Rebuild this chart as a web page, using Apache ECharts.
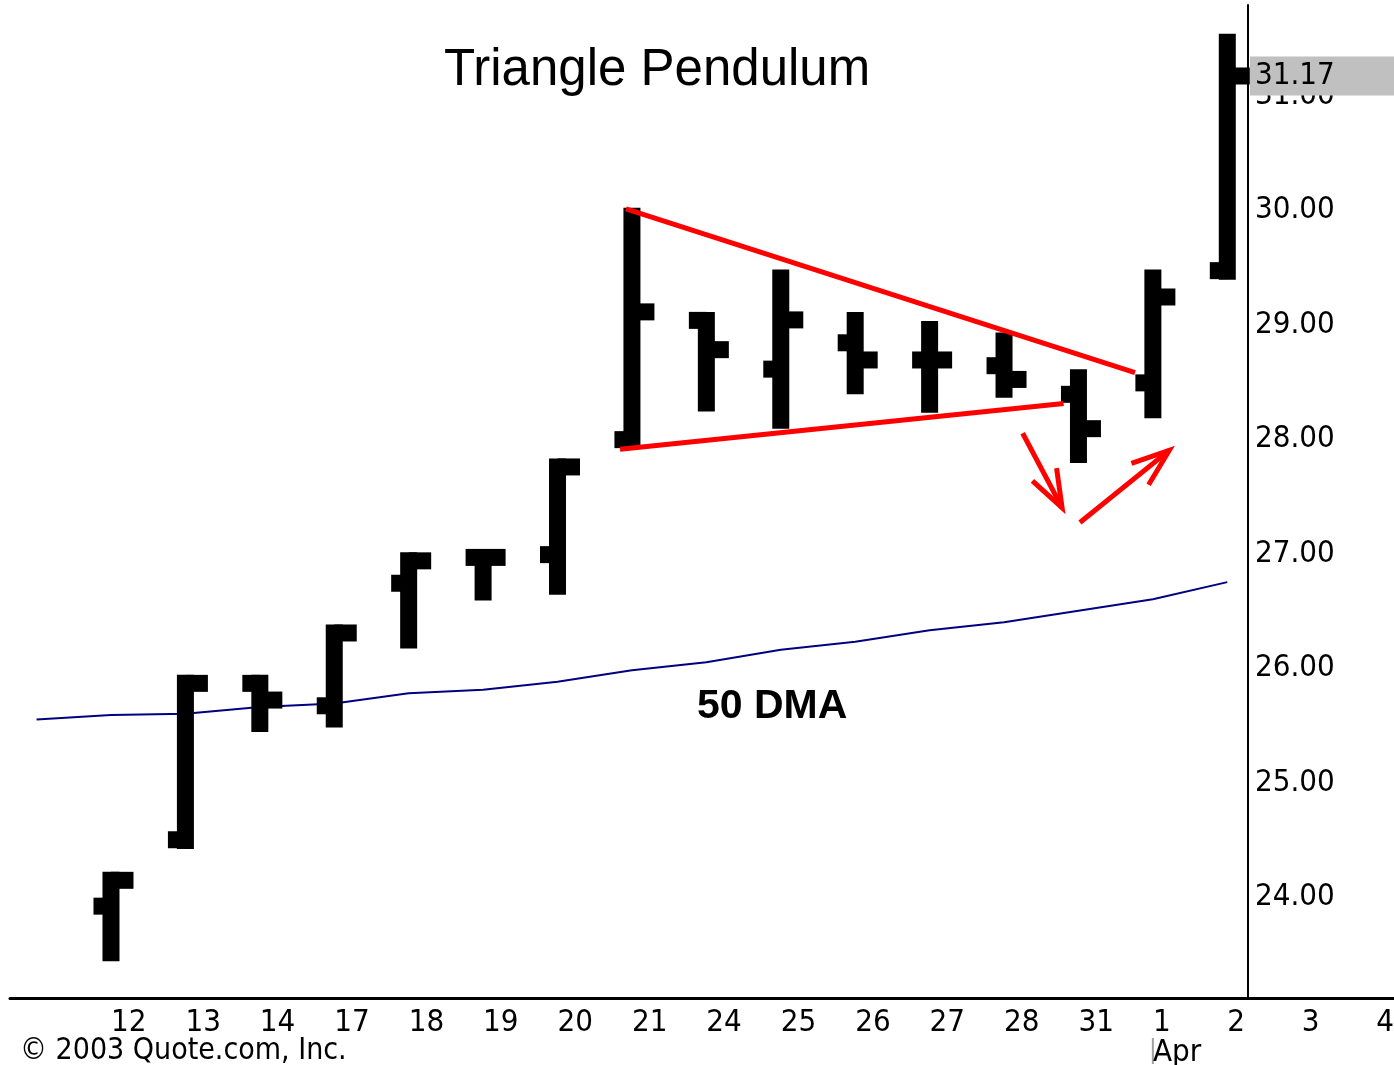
<!DOCTYPE html>
<html>
<head>
<meta charset="utf-8">
<title>Triangle Pendulum</title>
<script src="https://cdn.jsdelivr.net/npm/echarts@6/dist/echarts.min.js"></script>
<style>
  html, body { margin: 0; padding: 0; background: #fff; overflow: hidden; }
  #chart { width: 1394px; height: 1065px; }
</style>
</head>
<body>
<div id="chart"></div>
<script>
// Trading days (March 12 – April 4, 2003)
const days = ['12', '13', '14', '17', '18', '19', '20', '21', '24', '25', '26', '27', '28', '31', '1', '2', '3', '4'];

// Daily OHLC bars
const opens  = [23.92, 24.50, 25.87, 25.67, 26.74, 26.97, 26.99, 27.99, 29.04, 28.61, 28.84, 28.69, 28.64, 28.39, 28.49, 29.47];
const highs  = [24.22, 25.94, 25.94, 26.38, 27.01, 27.04, 27.83, 30.02, 29.11, 29.48, 29.11, 29.03, 28.93, 28.61, 29.48, 31.54];
const lows   = [23.44, 24.42, 25.44, 25.48, 26.17, 26.59, 26.64, 27.92, 28.24, 28.09, 28.39, 28.23, 28.36, 27.79, 28.18, 29.39];
const closes = [24.15, 25.87, 25.72, 26.31, 26.94, 26.97, 27.76, 29.11, 28.78, 29.04, 28.69, 28.69, 28.52, 28.09, 29.24, 31.17];

// 50-day moving average: value for the session before the 12th, then one per bar
const maPrior = 25.55;
const maValues = [25.59, 25.60, 25.66, 25.69, 25.78, 25.81, 25.88, 25.98, 26.05, 26.16, 26.23, 26.33, 26.40, 26.50, 26.60, 26.75];

// Price ticks on the right-hand scale
const priceTicks = [24, 25, 26, 27, 28, 29, 30, 31];

// Triangle boundaries (x in session index, y in price)
const upperLine = [[6.92, 30.01], [13.76, 28.58]];
const lowerLine = [[6.84, 27.91], [12.80, 28.31]];

// Swing arrows: [fromIndex, fromPrice, toIndex, toPrice]
const arrows = [
  [12.25, 28.05, 12.78, 27.40],
  [13.02, 27.27, 14.22, 27.90]
];

const NARROW = "'Liberation Sans Narrow', 'Arial Narrow', 'DejaVu Sans Condensed', sans-serif";
const SANS = "'Liberation Sans', Arial, sans-serif";
const LABEL_SIZE = 31;

const ohlcData = opens.map((o, i) => [i, o, highs[i], lows[i], closes[i]]);
const maData = [[-1, maPrior]].concat(maValues.map((v, i) => [i, v]));
const lastClose = closes[closes.length - 1];

function renderBar(params, api) {
  const i = api.value(0);
  const o = api.coord([i, api.value(1)]);
  const h = api.coord([i, api.value(2)]);
  const l = api.coord([i, api.value(3)]);
  const c = api.coord([i, api.value(4)]);
  const cx = o[0];
  const stickW = 17, tickH = 17, leftExt = 9, rightExt = 14;
  const top = h[1], bot = l[1];
  const tickY = y => Math.min(Math.max(y - tickH / 2, top), bot - tickH);
  const style = { fill: '#000' };
  return {
    type: 'group',
    children: [
      { type: 'rect', shape: { x: cx - stickW / 2, y: top, width: stickW, height: bot - top }, style },
      { type: 'rect', shape: { x: cx - stickW / 2 - leftExt, y: tickY(o[1]), width: leftExt + stickW / 2, height: tickH }, style },
      { type: 'rect', shape: { x: cx, y: tickY(c[1]), width: stickW / 2 + rightExt, height: tickH }, style }
    ]
  };
}

function renderArrow(params, api) {
  const p0 = api.coord([api.value(0), api.value(1)]);
  const p1 = api.coord([api.value(2), api.value(3)]);
  const ang = Math.atan2(p0[1] - p1[1], p0[0] - p1[0]);
  const len = 40, spread = 20 * Math.PI / 180;
  const b1 = [p1[0] + len * Math.cos(ang + spread), p1[1] + len * Math.sin(ang + spread)];
  const b2 = [p1[0] + len * Math.cos(ang - spread), p1[1] + len * Math.sin(ang - spread)];
  const style = { stroke: '#ff0000', lineWidth: 5, fill: null, lineCap: 'butt', lineJoin: 'miter' };
  return {
    type: 'group',
    children: [
      { type: 'polyline', shape: { points: [p0, p1] }, style },
      { type: 'polyline', shape: { points: [b1, p1, b2] }, style }
    ]
  };
}

const chart = echarts.init(document.getElementById('chart'), null, { renderer: 'canvas' });

const option = {
  animation: false,
  backgroundColor: '#fff',
  title: {
    text: 'Triangle Pendulum',
    left: 444,
    top: 45,
    padding: 0,
    textStyle: { fontFamily: SANS, fontSize: 51, fontWeight: 'normal', color: '#000' }
  },
  grid: { left: 10, right: 0, top: 5, bottom: 67, containLabel: false, outerBoundsMode: 'none' },
  xAxis: {
    type: 'value',
    min: -1.357,
    max: 17.24,
    splitLine: { show: false },
    axisTick: { show: false },
    axisLine: { onZero: false, lineStyle: { color: '#000', width: 3 } },
    axisLabel: {
      customValues: days.map((d, i) => i),
      formatter: v => (days[v] === '1' ? '1\nApr' : days[v]),
      align: 'left',
      margin: 10,
      fontFamily: NARROW,
      fontSize: LABEL_SIZE,
      lineHeight: 30,
      color: '#000'
    }
  },
  yAxis: [
    {
      type: 'value',
      position: 'right',
      offset: -146,
      min: 23.118,
      max: 31.79,
      splitLine: { show: false },
      axisTick: { show: false },
      axisLine: { show: true, onZero: false, lineStyle: { color: '#000', width: 2 } },
      axisLabel: {
        customValues: priceTicks,
        formatter: v => v.toFixed(2),
        margin: 7,
        padding: [4, 0, 0, 0],
        fontFamily: NARROW,
        fontSize: LABEL_SIZE,
        color: '#000'
      }
    },
    {
      type: 'value',
      position: 'right',
      offset: -146,
      min: 23.118,
      max: 31.79,
      z: 5,
      splitLine: { show: false },
      axisTick: { show: false },
      axisLine: { show: false, onZero: false },
      axisLabel: {
        customValues: [lastClose],
        formatter: v => v.toFixed(2),
        margin: 2,
        fontFamily: NARROW,
        fontSize: LABEL_SIZE,
        lineHeight: 28,
        color: '#000',
        backgroundColor: '#c0c0c0',
        padding: [7, 0, 4, 5],
        width: 145
      }
    }
  ],
  series: [
    {
      name: '50 DMA',
      type: 'line',
      data: maData,
      showSymbol: false,
      symbol: 'none',
      lineStyle: { color: '#000080', width: 2 },
      z: 2
    },
    {
      name: 'Price',
      type: 'custom',
      renderItem: renderBar,
      data: ohlcData,
      encode: { x: 0, y: [1, 2, 3, 4] },
      z: 3
    },
    {
      name: 'Upper',
      type: 'line',
      data: upperLine,
      symbol: 'none',
      lineStyle: { color: '#ff0000', width: 5 },
      z: 4
    },
    {
      name: 'Lower',
      type: 'line',
      data: lowerLine,
      symbol: 'none',
      lineStyle: { color: '#ff0000', width: 5 },
      z: 4
    },
    {
      name: 'Swings',
      type: 'custom',
      renderItem: renderArrow,
      data: arrows,
      encode: { x: [0, 2], y: [1, 3] },
      z: 4
    }
  ],
  graphic: [
    {
      id: 'maLabel',
      type: 'text',
      left: 697,
      top: 686,
      style: { text: '50 DMA', fontFamily: SANS, fontSize: 41, fontWeight: 'bold', fill: '#000' }
    },
    {
      id: 'copyright',
      type: 'text',
      left: 20,
      top: 1036,
      style: { text: '\u00A9 2003 Quote.com, Inc.', fontFamily: NARROW, fontSize: 30, fill: '#000' }
    }
  ]
};

chart.setOption(option);

// Month separator under the first April session
const aprX = chart.convertToPixel({ xAxisIndex: 0 }, days.indexOf('1'));
chart.setOption({
  graphic: [
    {
      id: 'aprSeparator',
      type: 'line',
      shape: { x1: aprX, y1: 1038, x2: aprX, y2: 1064 },
      style: { stroke: '#a0a0a0', lineWidth: 2 }
    }
  ]
});
</script>
</body>
</html>
